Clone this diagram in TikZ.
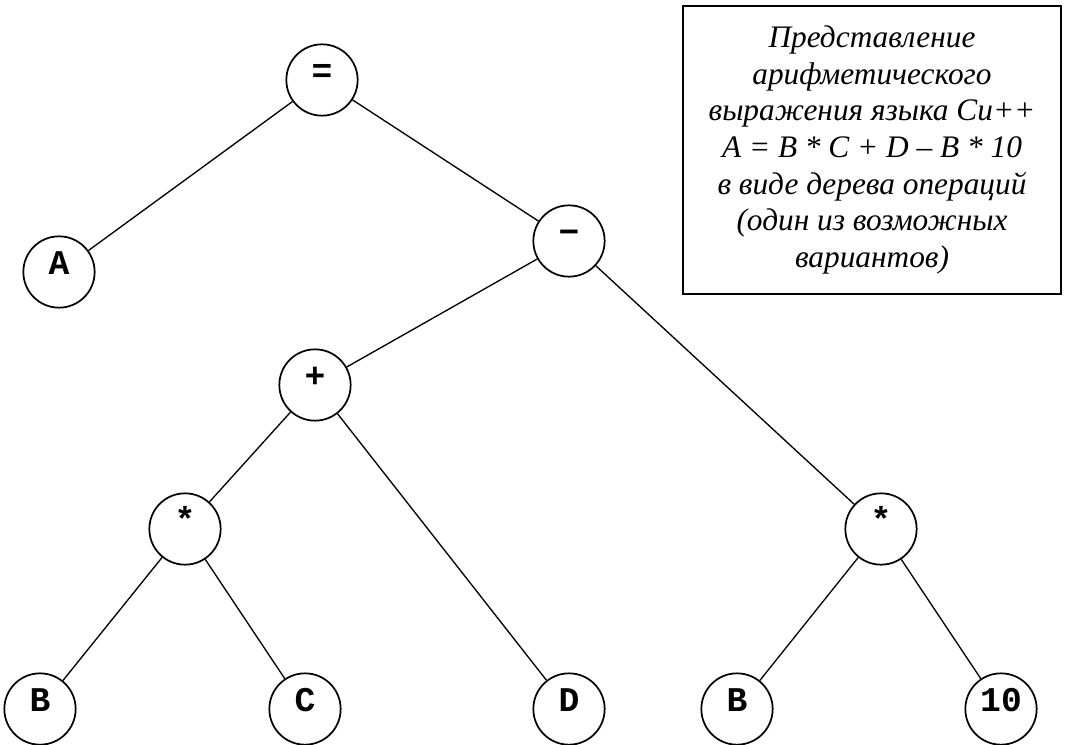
\documentclass[tikz,border=0pt]{standalone}
\usepackage{fontspec}
\setmainfont{Liberation Serif}
\setmonofont{Liberation Mono}
\newcommand{\opfont}{\ttfamily\bfseries\fontsize{26pt}{30pt}\selectfont}
\newcommand{\notefont}{\itshape\fontsize{23.5pt}{27.5pt}\selectfont}
\begin{document}
\begin{tikzpicture}[x=0.75pt,y=-0.75pt]
\tikzstyle{every node}+=[inner sep=0pt]
\tikzstyle{op}=[draw=black, circle, line width=1.3pt, minimum size=53.5pt, font=\opfont, text height=0.6em, text depth=0.25em]
\tikzstyle{arc}=[black, line width=1pt]
\useasboundingbox (0,0) rectangle (1068,745);
\node [op] (eq) at (322,80) {=};
\node [op] (a) at (59,272) {A};
\node [op] (minus) at (569,241) {−};
\node [op] (plus) at (315,385) {+};
\node [op] (mulL) at (185,529) {*};
\node [op] (mulR) at (881,529) {*};
\node [op] (bL) at (40,709) {B};
\node [op] (c) at (305,709) {C};
\node [op] (d) at (569,709) {D};
\node [op] (bR) at (737,709) {B};
\node [op] (ten) at (1001,709) {10};
\draw [arc] (eq) -- (a);
\draw [arc] (eq) -- (minus);
\draw [arc] (minus) -- (plus);
\draw [arc] (minus) -- (mulR);
\draw [arc] (plus) -- (mulL);
\draw [arc] (plus) -- (d);
\draw [arc] (mulL) -- (bL);
\draw [arc] (mulL) -- (c);
\draw [arc] (mulR) -- (bR);
\draw [arc] (mulR) -- (ten);
\node [draw=black, line width=1.2pt, minimum width=283.5pt, minimum height=216pt, align=center, font=\notefont] (note) at (872,150)
  {Представление\\ арифметического\\ выражения языка Си++\\ A = B * C + D – B * 10\\ в виде дерева операций\\ (один из возможных\\ вариантов)};
\end{tikzpicture}
\end{document}
